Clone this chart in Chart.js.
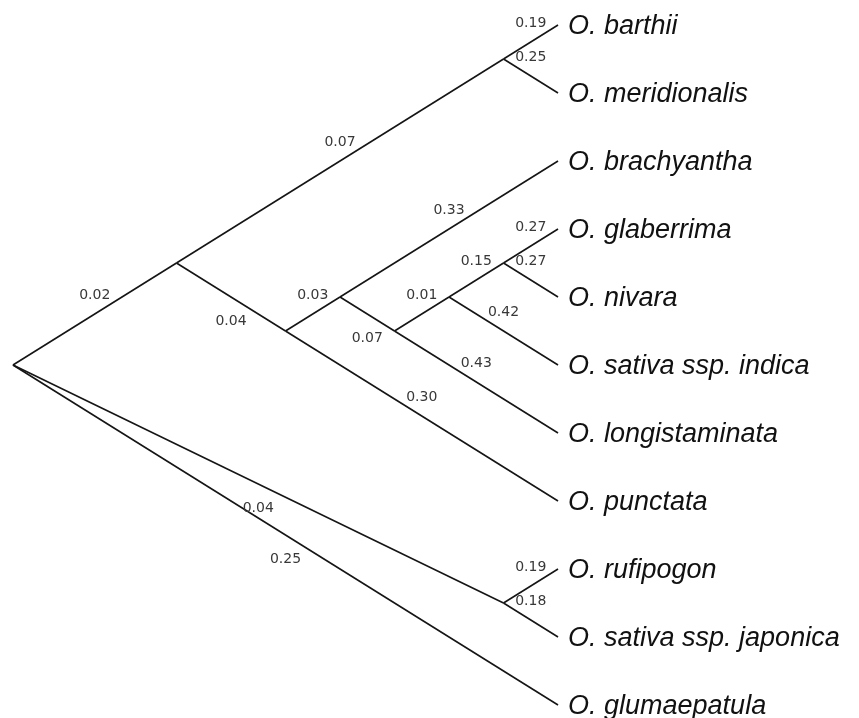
<!DOCTYPE html>
<html>
<head>
<meta charset="utf-8">
<script src="https://cdn.jsdelivr.net/npm/chart.js@4.4.1/dist/chart.umd.min.js"></script>
<style>
  html, body { margin: 0; padding: 0; background: #fff; }
  canvas { display: block; }
</style>
</head>
<body>
<canvas id="tree" width="859" height="718"></canvas>
<script>
// Oryza species tree, tips listed top to bottom
const taxa = [
  'O. barthii', 'O. meridionalis', 'O. brachyantha', 'O. glaberrima', 'O. nivara',
  'O. sativa ssp. indica', 'O. longistaminata', 'O. punctata', 'O. rufipogon',
  'O. sativa ssp. japonica', 'O. glumaepatula'
];

// Branches: child node, its parent, and the branch length printed on it
const branchChild = [
  'n1', 'n2', 'O. barthii', 'O. meridionalis', 'n3', 'n4', 'O. punctata',
  'O. brachyantha', 'n5', 'n6', 'O. longistaminata', 'n7', 'O. sativa ssp. indica',
  'O. glaberrima', 'O. nivara', 'n8', 'O. glumaepatula', 'O. rufipogon',
  'O. sativa ssp. japonica'
];
const branchParent = [
  'root', 'n1', 'n2', 'n2', 'n1', 'n3', 'n3',
  'n4', 'n4', 'n5', 'n5', 'n6', 'n6',
  'n7', 'n7', 'root', 'root', 'n8',
  'n8'
];
const branchLength = [
  0.02, 0.07, 0.19, 0.25, 0.04, 0.03, 0.30,
  0.33, 0.07, 0.01, 0.43, 0.15, 0.42,
  0.27, 0.27, 0.04, 0.25, 0.19,
  0.18
];

// branches whose length label sits under the line instead of over it
const labelBelow = ['n3', 'n5', 'n8', 'O. glumaepatula'];

// --- slanted cladogram layout: each node sits at the apex over its tip range ---
const spanCache = {};
function tipSpan(node) {
  if (spanCache[node]) return spanCache[node];
  const idx = taxa.indexOf(node);
  let span;
  if (idx >= 0) {
    span = [idx, idx];
  } else {
    span = [Infinity, -Infinity];
    branchChild.forEach((c, i) => {
      if (branchParent[i] === node) {
        const s = tipSpan(c);
        span = [Math.min(span[0], s[0]), Math.max(span[1], s[1])];
      }
    });
  }
  spanCache[node] = span;
  return span;
}
const rootHalf = (taxa.length - 1) / 2;
function nodePos(node) {
  const [a, b] = tipSpan(node);
  return { x: rootHalf - (b - a) / 2, y: (a + b) / 2 };
}

const lineColor = '#151515';
const datasets = branchChild.map((c, i) => ({
  label: c,
  data: [nodePos(branchParent[i]), nodePos(c)],
  showLine: true,
  borderColor: lineColor,
  borderWidth: 1.6,
  pointRadius: 0,
  pointHoverRadius: 0,
  fill: false
}));

const treeText = {
  id: 'treeText',
  afterDatasetsDraw(chart) {
    const ctx = chart.ctx;
    const xs = chart.scales.x, ys = chart.scales.y;
    ctx.save();

    // branch lengths at the middle of each branch
    ctx.fillStyle = '#383838';
    ctx.textAlign = 'center';
    ctx.textBaseline = 'alphabetic';
    ctx.font = '14px "DejaVu Sans", Verdana, sans-serif';
    branchChild.forEach((c, i) => {
      const p = nodePos(branchParent[i]), q = nodePos(c);
      const mx = (xs.getPixelForValue(p.x) + xs.getPixelForValue(q.x)) / 2;
      const my = (ys.getPixelForValue(p.y) + ys.getPixelForValue(q.y)) / 2;
      const dy = labelBelow.includes(c) ? 23 : -20;
      ctx.fillText(branchLength[i].toFixed(2), mx, my + dy + 5.2);
    });

    // species names beside the tips
    ctx.font = 'italic 27px "Liberation Sans", Arial, sans-serif';
    ctx.fillStyle = '#111';
    ctx.textAlign = 'left';
    taxa.forEach(t => {
      const p = nodePos(t);
      ctx.fillText(t, xs.getPixelForValue(p.x) + 10, ys.getPixelForValue(p.y) + 8.5);
    });
    ctx.restore();
  }
};

new Chart(document.getElementById('tree'), {
  type: 'scatter',
  data: { datasets },
  options: {
    responsive: false,
    animation: false,
    devicePixelRatio: 1,
    layout: { padding: 0 },
    events: [],
    plugins: { legend: { display: false }, tooltip: { enabled: false } },
    scales: {
      x: { type: 'linear', display: false, min: -0.119, max: 7.761 },
      y: { type: 'linear', display: false, min: -0.368, max: 10.191, reverse: true }
    }
  },
  plugins: [treeText]
});
</script>
</body>
</html>
